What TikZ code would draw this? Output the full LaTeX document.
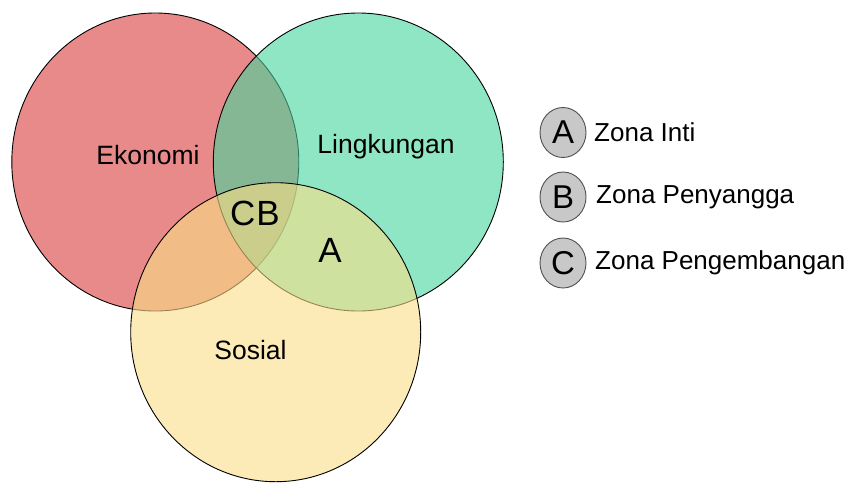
\documentclass[tikz,border=0pt]{standalone}
\usepackage{fontspec}
\setmainfont{Liberation Sans}
\usetikzlibrary{shapes.geometric}
\definecolor{ecoC}{RGB}{217,60,60}
\definecolor{envC}{RGB}{68,213,157}
\definecolor{socC}{RGB}{250,222,133}
\definecolor{legC}{RGB}{200,200,200}
\definecolor{legD}{RGB}{80,80,80}
\begin{document}
\begin{tikzpicture}[x=1pt,y=-1pt,
  venn/.style={ellipse,draw=black,line width=0.9pt,fill opacity=0.6,draw opacity=1,inner sep=0pt,minimum width=290pt,minimum height=298pt},
  lbl/.style={font=\fontsize{26.5}{30}\selectfont,inner sep=0pt},
  zone/.style={font=\fontsize{35}{40}\selectfont,inner sep=0pt},
  legcirc/.style={ellipse,draw=legD,line width=0.9pt,fill=legC,inner sep=0pt,minimum width=46pt,minimum height=50pt,font=\fontsize{33}{38}\selectfont},
  legtxt/.style={font=\fontsize{26}{30}\selectfont,inner sep=0pt,anchor=west}]
\useasboundingbox (0,0) rectangle (848,483);
\node[venn,fill=ecoC,minimum width=287pt] (eco) at (155.3,162) {};
\node[venn,fill=envC] (env) at (358.3,162) {};
\node[venn,fill=socC,minimum height=299pt] (soc) at (275.7,332.2) {};
\node[lbl] (ekonomi) at (148,155) {Ekonomi};
\node[lbl] (lingkungan) at (386,147) {Lingkungan};
\node[lbl] (sosial) at (250.5,350) {Sosial};
\node[zone] (cb) at (255,213) {C\kern1ptB};
\node[zone] (a) at (330,250) {A};
\node[legcirc] (la) at (563,132.5) {A};
\node[legcirc] (lb) at (563,197) {B};
\node[legcirc] (lc) at (563,263) {C};
\node[legtxt] (ta) at (594,132.5) {Zona Inti};
\node[legtxt] (tb) at (596,197) {Zona Penyangga};
\node[legtxt] (tc) at (595,263) {Zona Pengembangan};
\end{tikzpicture}
\end{document}
